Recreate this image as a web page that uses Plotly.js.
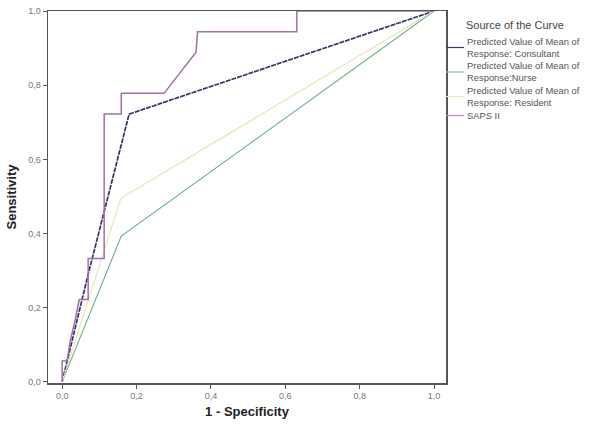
<!DOCTYPE html>
<html>
<head>
<meta charset="utf-8">
<script src="https://cdn.plot.ly/plotly-3.0.1.min.js"></script>
<style>html,body{margin:0;padding:0;background:#fff;}#chart{width:600px;height:428px;}</style>
</head>
<body>
<div id="chart"></div>
<script>
// ---- data ----
const consultantX = [0, 0.026, 0.07, 0.18, 1.0];
const consultantY = [0, 0.111, 0.29, 0.722, 1.0];

const nurseX = [0, 0.159, 1.0];
const nurseY = [0, 0.393, 1.0];

const residentX = [0, 0.158, 1.0];
const residentY = [0, 0.495, 1.0];

const sapsX = [0, 0, 0.013, 0.022, 0.035, 0.046, 0.07, 0.07, 0.113, 0.113, 0.159, 0.159, 0.274, 0.36, 0.364, 0.631, 0.631, 1.0];
const sapsY = [0, 0.056, 0.056, 0.111, 0.167, 0.222, 0.222, 0.333, 0.333, 0.722, 0.722, 0.778, 0.778, 0.889, 0.944, 0.944, 1.0, 1.0];

const tickVals = [0, 0.2, 0.4, 0.6, 0.8, 1.0];
const tickText = ["0,0", "0,2", "0,4", "0,6", "0,8", "1,0"];

const legendTitle = "Source of the Curve";
const legendLabels = [
  ["Predicted Value of Mean of", "Response: Consultant"],
  ["Predicted Value of Mean of", "Response:Nurse"],
  ["Predicted Value of Mean of", "Response: Resident"],
  ["SAPS II"]
];
const xTitle = "1 - Specificity";
const yTitle = "Sensitivity";

// ---- styles ----
const colors = ["#34336a", "#6aae86", "#e4e4b0", "#a070a6"];
const widths = [1.7, 1.1, 1.1, 1.5];
const dashes = ["5px,1px", "solid", "solid", "solid"];
const legendColors = ["#3b3a6e", "#8cc0a0", "#e8e8b8", "#c488bc"];

const series = [
  [consultantX, consultantY],
  [nurseX, nurseY],
  [residentX, residentY],
  [sapsX, sapsY]
];

const traces = series.map((s, i) => ({
  x: s[0], y: s[1], type: "scatter", mode: "lines",
  name: legendLabels[i].join(" "),
  line: {color: colors[i], width: widths[i], dash: dashes[i]},
  hoverinfo: "skip"
}));

// pixel geometry of the plot area
const L = 48, R = 446, T = 11, B = 383;
const px2x = px => (px - L) / (R - L);
const py2y = py => (B - py) / (B - T);

const annotations = [];
const shapes = [];
annotations.push({
  xref: "paper", yref: "paper", x: px2x(465), y: py2y(25),
  xanchor: "left", yanchor: "middle", showarrow: false, borderpad: 0,
  text: legendTitle, font: {family: "Liberation Sans, Arial, sans-serif", size: 11, color: "#444"}
});
const entryCenters = [47.5, 72, 96.5, 115.5];
legendLabels.forEach((lines, i) => {
  const c = entryCenters[i];
  annotations.push({
    xref: "paper", yref: "paper", x: px2x(466), y: py2y(c),
    xanchor: "left", yanchor: "middle", align: "left", showarrow: false, borderpad: 0,
    text: lines.join("<br>"),
    font: {family: "Liberation Sans, Arial, sans-serif", size: 9.4, color: "#555"}
  });
  shapes.push({
    type: "line", xref: "paper", yref: "paper",
    x0: px2x(446), x1: px2x(464), y0: py2y(c), y1: py2y(c),
    line: {color: legendColors[i], width: 1.2}
  });
});

const axisCommon = {
  showgrid: false, zeroline: false, showline: true, mirror: true,
  linecolor: "#555", linewidth: 1.5,
  ticks: "outside", ticklen: 4, tickwidth: 1, tickcolor: "#555",
  tickvals: tickVals, ticktext: tickText,
  tickfont: {family: "Liberation Sans, Arial, sans-serif", size: 9, color: "#777"}
};

const layout = {
  width: 600, height: 428,
  margin: {l: L, r: 600 - R, t: T, b: 428 - B, pad: 0},
  paper_bgcolor: "#fff", plot_bgcolor: "#fff",
  showlegend: false,
  xaxis: Object.assign({}, axisCommon, {
    range: [-0.038, 1.032],
    title: {text: xTitle, standoff: 6, font: {family: "Liberation Sans, Arial, sans-serif", size: 13, color: "#222", weight: "bold"}}
  }),
  yaxis: Object.assign({}, axisCommon, {
    range: [-0.003, 1.0],
    title: {text: yTitle, standoff: 8, font: {family: "Liberation Sans, Arial, sans-serif", size: 13, color: "#222", weight: "bold"}}
  }),
  annotations: annotations,
  shapes: shapes
};

Plotly.newPlot("chart", traces, layout, {staticPlot: true, displayModeBar: false});
</script>
</body>
</html>
